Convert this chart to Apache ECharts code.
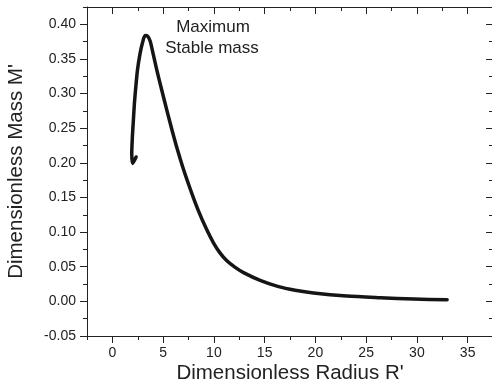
<!DOCTYPE html>
<html><head><meta charset="utf-8">
<script src="https://cdn.jsdelivr.net/npm/echarts@6/dist/echarts.min.js"></script>
<style>html,body{margin:0;padding:0;background:#fff}#c{width:492px;height:383px}</style>
</head><body><div id="c"></div>
<script>
// Curve, in order along the line (starting at the spiral end)
var radius = [2.34, 1.99, 1.91, 1.97, 2.07, 2.17, 2.31, 2.47, 2.73, 2.98, 3.22, 3.47, 3.72, 3.98, 4.38, 4.90, 5.40, 5.90, 6.40, 6.90, 7.40, 7.95, 8.50, 9.20, 9.96, 10.6, 11.28, 12.1, 12.92, 14.56, 16.37, 18.0, 19.82, 23.1, 26.4, 29.7, 32.98];
var mass   = [0.2085, 0.199, 0.2134, 0.2374, 0.2616, 0.2857, 0.3097, 0.3338, 0.358, 0.374, 0.3837, 0.383, 0.376, 0.360, 0.3338, 0.303, 0.274, 0.246, 0.2195, 0.1955, 0.1735, 0.151, 0.130, 0.1065, 0.0845, 0.070, 0.0585, 0.049, 0.0415, 0.0303, 0.0212, 0.016, 0.012, 0.0077, 0.0053, 0.0033, 0.0025];
var xTickLabels = [0, 5, 10, 15, 20, 25, 30, 35];
var yTickLabels = ['-0.05','0.00','0.05','0.10','0.15','0.20','0.25','0.30','0.35','0.40'];
var annotation = ['Maximum', 'Stable mass'];

var FONT = '"Liberation Sans", Arial, Helvetica, sans-serif';
var X0 = -2.5, X1 = 37.5, Y0 = -0.05, Y1 = 0.425;
var L = 87, T = 7, W = 406, H = 329;
var ppx = W / (X1 - X0), ppy = H / (Y1 - Y0);
var xMajMin = xTickLabels[0], xMajMax = xTickLabels[xTickLabels.length - 1];
var yMajMin = parseFloat(yTickLabels[0]), yMajMax = parseFloat(yTickLabels[yTickLabels.length - 1]);

var data = radius.map(function (r, i) { return [r, mass[i]]; });
var lineC = '#222';

function axisBase(extra) {
  var a = {
    axisLine: { show: false, lineStyle: { color: lineC, width: 1 } },
    axisTick: { show: false },
    axisLabel: { show: false },
    splitLine: { show: false }
  };
  for (var k in extra) a[k] = extra[k];
  return a;
}
function gridBox(left, top, width, height) {
  return { left: left, top: top, width: width, height: height, containLabel: false, outerBoundsMode: 'none' };
}

var option = {
  animation: false,
  backgroundColor: '#fff',
  grid: [
    gridBox(L, T, W, H),
    gridBox(L + (xMajMin - X0) * ppx, T, (xMajMax - xMajMin) * ppx, H),
    gridBox(L, T + (Y1 - yMajMax) * ppy, W, (yMajMax - yMajMin) * ppy)
  ],
  xAxis: [
    axisBase({ type: 'value', gridIndex: 0, position: 'bottom', min: X0, max: X1, interval: 2.5,
      axisLine: { show: true, onZero: false, lineStyle: { color: lineC, width: 1 } },
      axisTick: { show: true, inside: false, length: 4, lineStyle: { color: lineC } },
      name: "Dimensionless Radius R'", nameLocation: 'middle', nameGap: 27,
      nameTextStyle: { fontFamily: FONT, fontSize: 20.5, color: '#222' } }),
    axisBase({ type: 'value', gridIndex: 0, position: 'top', min: X0, max: X1, interval: 2.5,
      axisLine: { show: true, onZero: false, lineStyle: { color: lineC, width: 1 } },
      axisTick: { show: true, inside: true, length: 4, lineStyle: { color: lineC } } }),
    axisBase({ type: 'value', gridIndex: 1, position: 'bottom', min: xMajMin, max: xMajMax, interval: 5,
      axisLine: { show: false, onZero: false },
      axisTick: { show: true, inside: false, length: 7, lineStyle: { color: lineC } },
      axisLabel: { show: true, margin: 10, fontFamily: FONT, fontSize: 14, color: '#222' } }),
    axisBase({ type: 'value', gridIndex: 1, position: 'top', min: xMajMin, max: xMajMax, interval: 5,
      axisLine: { show: false, onZero: false },
      axisTick: { show: true, inside: true, length: 7, lineStyle: { color: lineC } } }),
    axisBase({ type: 'value', gridIndex: 2, show: false, min: X0, max: X1 })
  ],
  yAxis: [
    axisBase({ type: 'value', gridIndex: 0, position: 'left', min: Y0, max: Y1, interval: 0.025,
      axisLine: { show: true, onZero: false, lineStyle: { color: lineC, width: 1 } },
      axisTick: { show: true, inside: false, length: 4, lineStyle: { color: lineC } },
      name: "Dimensionless Mass M'", nameLocation: 'middle', nameGap: 60,
      nameTextStyle: { fontFamily: FONT, fontSize: 20.5, color: '#222' } }),
    axisBase({ type: 'value', gridIndex: 0, position: 'right', min: Y0, max: Y1, interval: 0.025,
      axisLine: { show: true, onZero: false, lineStyle: { color: lineC, width: 1 } },
      axisTick: { show: true, inside: true, length: 4, lineStyle: { color: lineC } } }),
    axisBase({ type: 'value', gridIndex: 1, show: false, min: Y0, max: Y1 }),
    axisBase({ type: 'value', gridIndex: 2, position: 'left', min: yMajMin, max: yMajMax, interval: 0.05,
      axisLine: { show: false, onZero: false },
      axisTick: { show: true, inside: false, length: 7, lineStyle: { color: lineC } },
      axisLabel: { show: true, margin: 11, fontFamily: FONT, fontSize: 14, color: '#222',
        formatter: function (v) { return v.toFixed(2); } } }),
    axisBase({ type: 'value', gridIndex: 2, position: 'right', min: yMajMin, max: yMajMax, interval: 0.05,
      axisLine: { show: false, onZero: false },
      axisTick: { show: true, inside: true, length: 7, lineStyle: { color: lineC } } })
  ],
  series: [{
    type: 'line', xAxisIndex: 0, yAxisIndex: 0, data: data,
    showSymbol: false, smooth: 0.25, clip: false,
    lineStyle: { color: '#151515', width: 3.5, cap: 'round', join: 'round' }
  }],
  graphic: [
    { type: 'text', x: 213, y: 27, style: { text: annotation[0], fontFamily: FONT, fontSize: 17, fill: '#222', align: 'center', verticalAlign: 'middle' } },
    { type: 'text', x: 212, y: 48, style: { text: annotation[1], fontFamily: FONT, fontSize: 17, fill: '#222', align: 'center', verticalAlign: 'middle' } }
  ]
};
var chart = echarts.init(document.getElementById('c'), null, { renderer: 'canvas' });
chart.setOption(option);
</script></body></html>
